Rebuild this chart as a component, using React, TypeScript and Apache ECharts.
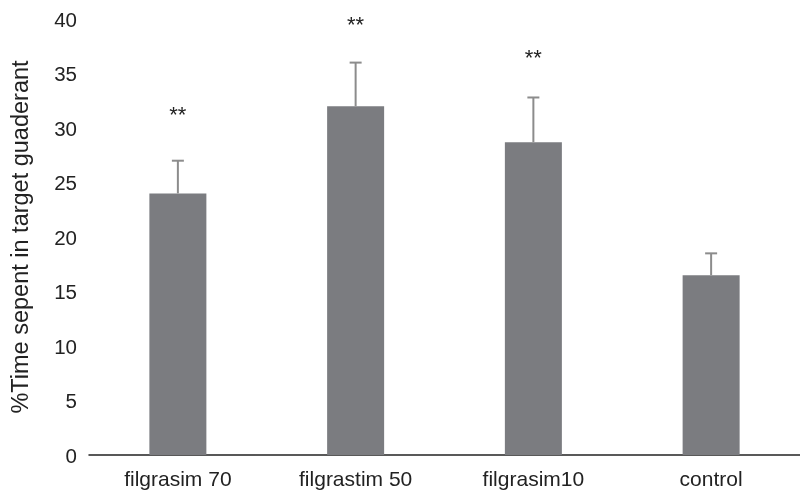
import React, { useEffect, useRef } from "react";
import * as echarts from "echarts";

const categories = ["filgrasim 70", "filgrastim 50", "filgrasim10", "control"];
const means = [24, 32, 28.7, 16.5];
const errorTops = [27, 36, 32.8, 18.5];
const significance = ["**", "**", "**", ""];
const starLevels = [31.3, 39.6, 36.6, 0];
const yTicks = [0, 5, 10, 15, 20, 25, 30, 35, 40];

export default function App() {
  const ref = useRef<HTMLDivElement>(null);
  useEffect(() => {
    const chart = echarts.init(ref.current!, undefined, { renderer: "svg" });
    const font = "'Liberation Sans', Arial, Helvetica, sans-serif";
    chart.setOption({
      animation: false,
      grid: { left: 85, top: 19, bottom: 36, width: 726 },
      xAxis: {
        type: "category",
        data: categories,
        axisLine: { lineStyle: { color: "#222", width: 1.5 } },
        axisTick: { show: false },
        axisLabel: { color: "#222", fontSize: 21, fontFamily: font, margin: 13 },
      },
      yAxis: {
        type: "value",
        min: yTicks[0],
        max: yTicks[yTicks.length - 1],
        interval: 5,
        name: "%Time sepent in target guaderant",
        nameLocation: "middle",
        nameGap: 57,
        nameRotate: 90,
        nameTextStyle: { color: "#222", fontSize: 23.5, fontFamily: font, padding: [0, 0, 0, 0] },
        axisLine: { show: false },
        axisTick: { show: false },
        splitLine: { show: false },
        axisLabel: { color: "#222", fontSize: 20.5, fontFamily: font, margin: 12 },
      },
      series: [
        {
          type: "bar",
          data: means,
          barWidth: 57,
          itemStyle: { color: "#7b7c80" },
        },
        {
          type: "custom",
          data: categories.map((_, i) => [i, means[i], errorTops[i], starLevels[i]]),
          renderItem: (params: any, api: any) => {
            const i = api.value(0);
            const base = api.coord([i, api.value(1)]);
            const top = api.coord([i, api.value(2)]);
            const star = api.coord([i, api.value(3)]);
            const label = significance[i];
            const children: any[] = [
              {
                type: "line",
                shape: { x1: base[0], y1: base[1], x2: top[0], y2: top[1] },
                style: { stroke: "#8c8c8c", lineWidth: 2 },
              },
              {
                type: "line",
                shape: { x1: top[0] - 6, y1: top[1], x2: top[0] + 6, y2: top[1] },
                style: { stroke: "#8c8c8c", lineWidth: 2 },
              },
            ];
            if (label) {
              children.push({
                type: "text",
                style: {
                  text: label,
                  x: star[0],
                  y: star[1] + 1,
                  align: "center",
                  verticalAlign: "middle",
                  fill: "#222",
                  fontSize: 22,
                  fontFamily: font,
                },
              });
            }
            return { type: "group", children };
          },
          z: 3,
        },
      ],
    });
    return () => chart.dispose();
  }, []);
  return (
    <div
      ref={ref}
      style={{ position: "fixed", left: 0, top: 0, width: 800, height: 491 }}
    />
  );
}
